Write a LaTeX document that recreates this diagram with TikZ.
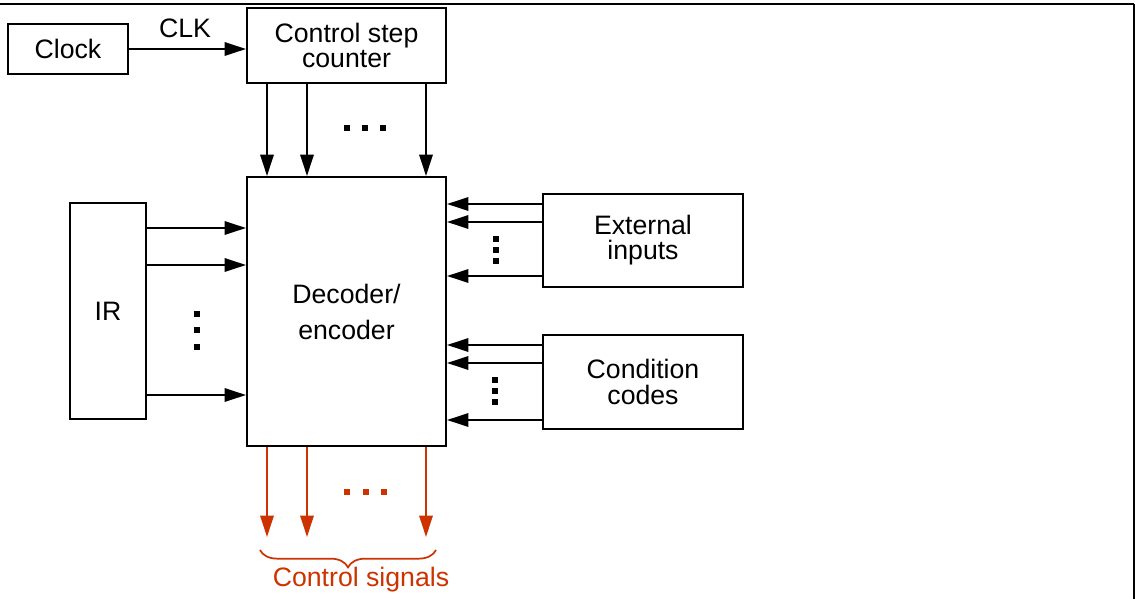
\documentclass[tikz,border=0pt]{standalone}
\usepackage{fontspec}
\setmainfont{Liberation Sans}
\usetikzlibrary{arrows.meta,decorations.pathreplacing}
\definecolor{sigred}{RGB}{204,51,0}

\begin{document}
\begin{tikzpicture}[
    x=0.75pt, y=-0.75pt,
    box/.style={rectangle, draw=black, line width=1.5pt, align=center, inner sep=0pt, font=\fontsize{20}{18.8}\selectfont},
    arr/.style={-{Triangle[length=16pt,width=10pt]}, line width=1.6pt},
    sig/.style={arr, draw=sigred, fill=sigred},
    sqd/.style={rectangle, fill=black, inner sep=0pt, minimum size=4.5pt},
    lbl/.style={font=\fontsize{20}{22}\selectfont}
]
\useasboundingbox (0,0) rectangle (1135,599);

% Frame
\draw[line width=2.2pt] (0,4) -- (1133.5,4);
\draw[line width=1.5pt] (1133.5,4) -- (1133.5,599);

% Boxes
\node[box, minimum width=90pt, minimum height=37.5pt] (clock) at (68,49) {Clock};
\node[box, minimum width=149.25pt, minimum height=56.25pt] (cnt) at (346.5,45.5) {Control step\\counter};
\node[box, minimum width=149.25pt, minimum height=201.75pt, font=\fontsize{20}{27}\selectfont] (dec) at (346.5,311.5) {Decoder/\\encoder};
\node[box, minimum width=57pt, minimum height=162pt] (ir) at (108,311) {IR};
\node[box, minimum width=150pt, minimum height=69.75pt] (ext) at (643,240.5) {External\\inputs};
\node[box, minimum width=150pt, minimum height=70.5pt] (cond) at (643,382) {Condition\\codes};

% Clock to counter
\draw[arr] (clock.east) -- (cnt.west |- clock.east);
\node[lbl] (clk) at (185,28) {CLK};

% Counter to decoder
\foreach \x in {267,307,426}
    \draw[arr] (cnt.south -| \x,0) -- (dec.north -| \x,0);
\foreach \x in {347,365,383}
    \node[sqd] at (\x,128) {};

% IR to decoder
\foreach \y in {228,265,395}
    \draw[arr] (ir.east |- 0,\y) -- (dec.west |- 0,\y);
\foreach \y in {314,330,347}
    \node[sqd] at (197,\y) {};

% External inputs to decoder
\foreach \y in {204,222,276}
    \draw[arr] (ext.west |- 0,\y) -- (dec.east |- 0,\y);
\foreach \y in {239,250,261}
    \node[sqd, minimum size=4pt] at (496,\y) {};

% Condition codes to decoder
\foreach \y in {345,363,420}
    \draw[arr] (cond.west |- 0,\y) -- (dec.east |- 0,\y);
\foreach \y in {380,391,402}
    \node[sqd, minimum size=4pt] at (495,\y) {};

% Control signals
\coordinate (sigend) at (0,537);
\foreach \x in {267,307,426}
    \draw[sig] (dec.south -| \x,0) -- (sigend -| \x,0);
\foreach \x in {347,366,384}
    \node[sqd, fill=sigred] at (\x,492) {};
\draw[sigred, line width=1.3pt, decorate, decoration={brace, mirror, amplitude=13pt}] (260,550) -- (436,550);
\node[lbl, text=sigred] (sigs) at (361,580) {Control signals};

\end{tikzpicture}
\end{document}
